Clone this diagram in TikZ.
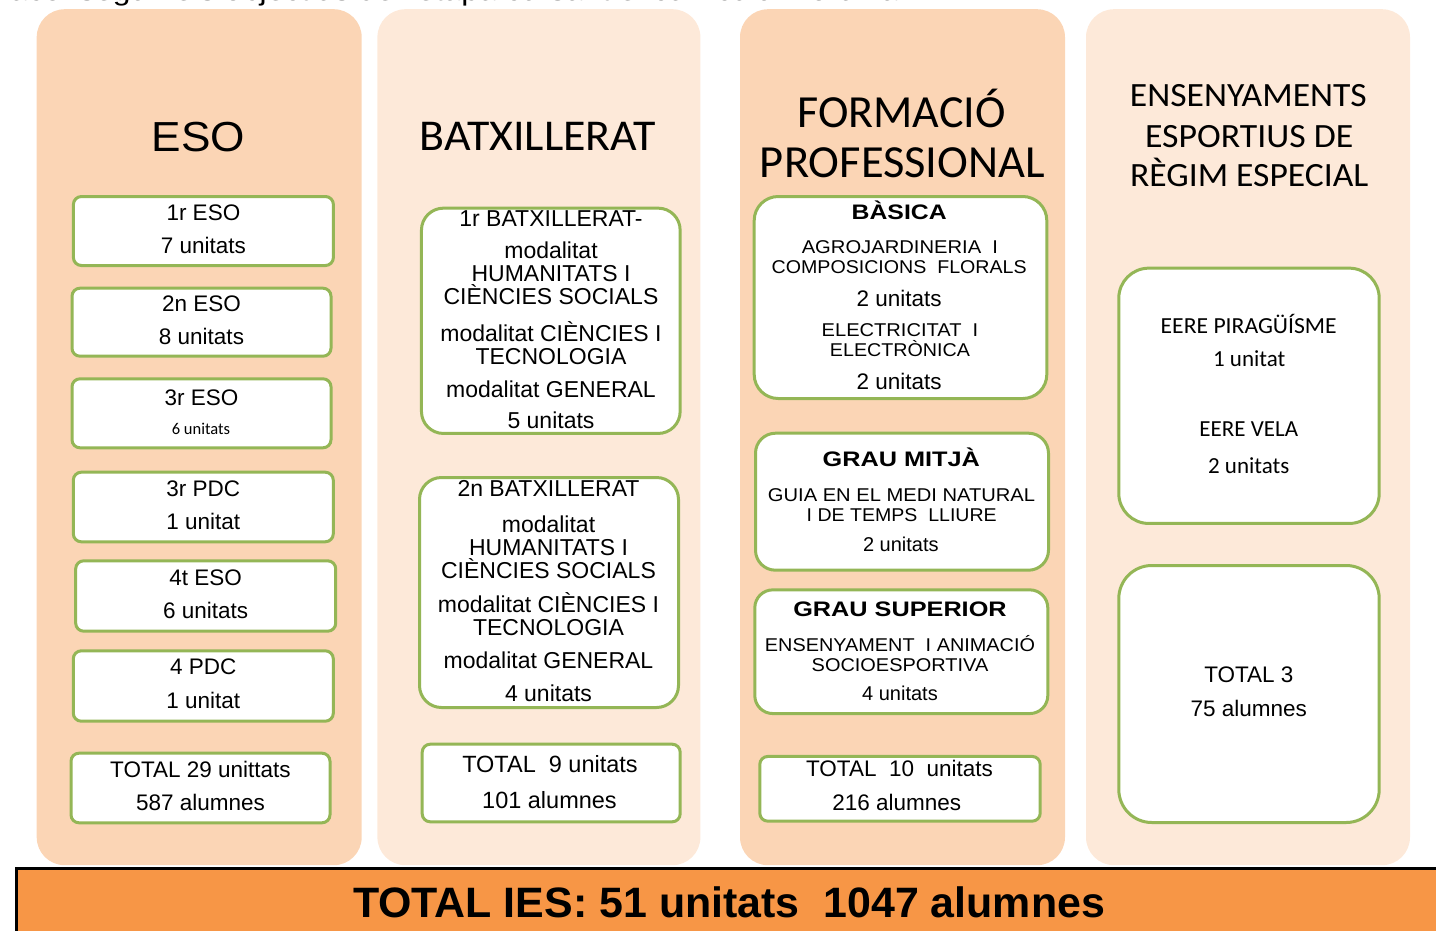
\documentclass[tikz,border=0pt]{standalone}
\usepackage{fontspec}
\usepackage{graphicx}
\setmainfont{Liberation Sans}
\newfontfamily\carl{Carlito}
\definecolor{peachD}{HTML}{FBD5B5}
\definecolor{peachL}{HTML}{FDE9D9}
\definecolor{grn}{HTML}{94B656}
\definecolor{barorange}{HTML}{F79646}
\newcommand\fw[2]{\resizebox{#1pt}{\height}{#2}}
\newcommand\fs[1]{\fontsize{#1}{#1}\selectfont}
\tikzset{
  col/.style={inner sep=0pt, rounded corners=28pt, draw=none},
  gbox/.style={draw=grn, line width=3pt, fill=white, inner sep=0pt},
  tx/.style={anchor=base, inner sep=0pt, font=\fs{22.5}},
  txm/.style={anchor=base, inner sep=0pt, font=\fs{23}},
  txs/.style={anchor=base, inner sep=0pt, font=\fs{18.5}},
  txb/.style={anchor=base, inner sep=0pt, font=\fs{21}\bfseries},
  txc/.style={anchor=base, inner sep=0pt, font=\carl\fs{23}},
  ttl/.style={anchor=base, inner sep=0pt, font=\carl\fs{44}},
}
\begin{document}
\begin{tikzpicture}[x=1pt,y=-1pt]
\useasboundingbox (0,0) rectangle (1436,930);
\clip (0,0) rectangle (1436,930);
% top cut text
\node[anchor=base west, inner sep=0pt, font=\fs{27}] (toptext) at (10,0.5) {\fw{915}{aconseguir els objectius de l'etapa cursant el currículum ordinari.}};
% columns
\node[col, fill=peachD, minimum width=325pt, minimum height=856pt] (c1) at (199.2,437.2) {};
\node[col, fill=peachL, minimum width=323pt, minimum height=856pt] (c2) at (538.9,437.2) {};
\node[col, fill=peachD, minimum width=325pt, minimum height=856pt] (c3) at (902.5,437.2) {};
\node[col, fill=peachL, minimum width=324pt, minimum height=856pt] (c4) at (1248,437.2) {};
% bottom bar
\node[draw=black, line width=2.5pt, fill=barorange, inner sep=0pt, minimum width=1440pt, minimum height=80pt, anchor=north west] (bar) at (15,867) {};
\node[anchor=base, inner sep=0pt, font=\fs{42.5}\bfseries] (bartext) at (729,917) {\fw{752}{TOTAL IES: 51 unitats\ \ 1047 alumnes}};

% ---------- ESO ----------
\node[anchor=base, inner sep=0pt, font=\fs{42}] (esot) at (198.4,151.7) {\fw{93.3}{ESO}};
\node[gbox, rounded corners=8pt, minimum width=260pt, minimum height=69pt] (e1) at (203.4,231) {};
\node[gbox, rounded corners=8pt, minimum width=259pt, minimum height=68pt] (e2) at (201.5,322.2) {};
\node[gbox, rounded corners=8pt, minimum width=259pt, minimum height=69pt] (e3) at (201.5,413.3) {};
\node[gbox, rounded corners=8pt, minimum width=260pt, minimum height=69.6pt] (e4) at (203.3,507) {};
\node[gbox, rounded corners=8pt, minimum width=260pt, minimum height=70.4pt] (e5) at (205.7,596) {};
\node[gbox, rounded corners=8pt, minimum width=260pt, minimum height=70.4pt] (e6) at (203.3,686) {};
\node[gbox, rounded corners=8pt, minimum width=259pt, minimum height=69.6pt] (e7) at (200.5,788) {};
\node[tx] (e1a) at (203.4,220) {1r ESO};
\node[tx] (e1b) at (203.4,253) {7 unitats};
\node[tx] (e2a) at (201.5,311) {2n ESO};
\node[tx] (e2b) at (201.5,344) {8 unitats};
\node[tx] (e3a) at (201.5,405) {3r ESO};
\node[anchor=base, inner sep=0pt, font=\carl\fs{16.5}] (e3b) at (201,434) {6 unitats};
\node[tx] (e4a) at (203.3,496) {3r PDC};
\node[tx] (e4b) at (203.3,529) {1 unitat};
\node[tx] (e5a) at (205.7,585) {4t ESO};
\node[tx] (e5b) at (205.7,618) {6 unitats};
\node[tx] (e6a) at (203.3,674) {4 PDC};
\node[tx] (e6b) at (203.3,708) {1 unitat};
\node[tx] (e7a) at (200.5,777) {TOTAL 29 unittats};
\node[tx] (e7b) at (200.5,810) {587 alumnes};

% ---------- BATXILLERAT ----------
\node[ttl] (batt) at (537.8,150) {\fw{236.6}{BATXILLERAT}};
\node[gbox, rounded corners=22pt, minimum width=258.7pt, minimum height=225.3pt] (b1) at (550.8,320.8) {};
\node[gbox, rounded corners=22pt, minimum width=259pt, minimum height=230pt] (b2) at (549,592.5) {};
\node[gbox, rounded corners=8pt, minimum width=258pt, minimum height=77.6pt] (b3) at (551.2,783) {};
\node[txm] (b1a) at (551,226) {1r BATXILLERAT-};
\node[txm] (b1b) at (551,258) {modalitat};
\node[txm] (b1c) at (551,281) {HUMANITATS I};
\node[txm] (b1d) at (551,304) {CIÈNCIES SOCIALS};
\node[txm] (b1e) at (551,341) {modalitat CIÈNCIES I};
\node[txm] (b1f) at (551,364) {TECNOLOGIA};
\node[txm] (b1g) at (551,397) {modalitat GENERAL};
\node[txm] (b1h) at (551,428) {5 unitats};
\node[txm] (b2a) at (548.5,496) {2n BATXILLERAT};
\node[txm] (b2b) at (548.5,532) {modalitat};
\node[txm] (b2c) at (548.5,555) {HUMANITATS I};
\node[txm] (b2d) at (548.5,578) {CIÈNCIES SOCIALS};
\node[txm] (b2e) at (548.5,612) {modalitat CIÈNCIES I};
\node[txm] (b2f) at (548.5,635) {TECNOLOGIA};
\node[txm] (b2g) at (548.5,668) {modalitat GENERAL};
\node[txm] (b2h) at (548.5,701) {4 unitats};
\node[anchor=base, inner sep=0pt, font=\fs{23.5}] (b3a) at (550,772) {TOTAL\ \ 9 unitats};
\node[anchor=base, inner sep=0pt, font=\fs{23.5}] (b3b) at (549.5,808) {101 alumnes};

% ---------- FORMACIO PROFESSIONAL ----------
\node[anchor=base, inner sep=0pt, font=\carl\fs{46}] (fpt1) at (901.5,127) {FORMACIÓ};
\node[anchor=base, inner sep=0pt, font=\carl\fs{46}] (fpt2) at (902.5,177) {\fw{285}{PROFESSIONAL}};
\node[gbox, rounded corners=24pt, minimum width=292.6pt, minimum height=202pt] (f1) at (900.5,297.5) {};
\node[gbox, rounded corners=20pt, minimum width=293pt, minimum height=137pt] (f2) at (902,501.7) {};
\node[gbox, rounded corners=18pt, minimum width=293pt, minimum height=123.7pt] (f3) at (901.3,651.7) {};
\node[gbox, rounded corners=8pt, minimum width=280.4pt, minimum height=64.7pt] (f4) at (900,788.8) {};
\node[txb] (f1a) at (899.2,219.5) {\fw{95}{BÀSICA}};
\node[txs] (f1b) at (899.9,253.5) {\fw{196.3}{AGROJARDINERIA\ \ I}};
\node[txs] (f1c) at (899.2,273.5) {\fw{255}{COMPOSICIONS\ \ FLORALS}};
\node[tx] (f1d) at (899.2,306) {2 unitats};
\node[txs] (f1e) at (900,336.7) {\fw{156.6}{ELECTRICITAT\ \ I}};
\node[txs] (f1f) at (900,356.7) {\fw{140}{ELECTRÒNICA}};
\node[tx] (f1g) at (899.2,389.3) {2 unitats};
\node[txb] (f2a) at (901.3,466.7) {\fw{157.3}{GRAU MITJÀ}};
\node[txs] (f2b) at (901.5,501.7) {\fw{267}{GUIA EN EL MEDI NATURAL}};
\node[txs] (f2c) at (901.7,521.7) {\fw{190}{I DE TEMPS\ \ LLIURE}};
\node[anchor=base, inner sep=0pt, font=\fs{20}] (f2d) at (900.8,551.7) {2 unitats};
\node[txb] (f3a) at (900,616.7) {\fw{213.4}{GRAU SUPERIOR}};
\node[txs] (f3b) at (900,651.7) {\fw{270}{ENSENYAMENT\ \ I ANIMACIÓ}};
\node[txs] (f3c) at (900,671.7) {\fw{176.6}{SOCIOESPORTIVA}};
\node[anchor=base, inner sep=0pt, font=\fs{20}] (f3d) at (900,700) {4 unitats};
\node[tx] (f4a) at (899.5,776.7) {TOTAL\ \ 10\ \ unitats};
\node[tx] (f4b) at (896.7,810) {216 alumnes};

% ---------- EERE ----------
\node[anchor=base, inner sep=0pt, font=\carl\fs{34}] (rt1) at (1248.3,106.7) {\fw{236.7}{ENSENYAMENTS}};
\node[anchor=base, inner sep=0pt, font=\carl\fs{34}] (rt2) at (1249.2,147.3) {\fw{208.3}{ESPORTIUS DE}};
\node[anchor=base, inner sep=0pt, font=\carl\fs{34}] (rt3) at (1249.2,186.7) {\fw{238.3}{RÈGIM ESPECIAL}};
\node[gbox, rounded corners=30pt, minimum width=260.4pt, minimum height=255.3pt] (r1) at (1249,395.8) {};
\node[gbox, rounded corners=33pt, minimum width=260.4pt, minimum height=257pt] (r2) at (1249,694) {};
\node[txc] (r1a) at (1248.7,333.3) {\fw{176}{EERE PIRAGÜÍSME}};
\node[txc] (r1b) at (1249.2,366.7) {1 unitat};
\node[txc] (r1c) at (1248.8,436.7) {EERE VELA};
\node[txc] (r1d) at (1248.7,473.3) {2 unitats};
\node[tx] (r2a) at (1248.9,682.7) {TOTAL 3};
\node[tx] (r2b) at (1248.7,716) {75 alumnes};
\end{tikzpicture}
\end{document}
